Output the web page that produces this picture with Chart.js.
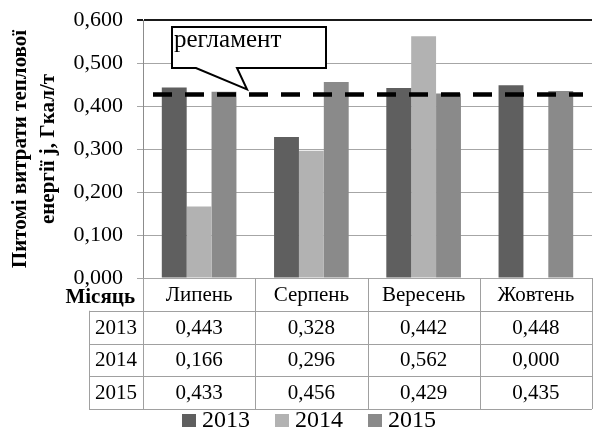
<!DOCTYPE html>
<html>
<head>
<meta charset="utf-8">
<script src="https://cdn.jsdelivr.net/npm/chart.js@4/dist/chart.umd.min.js"></script>
<style>
  html, body { margin: 0; padding: 0; background: #fff; }
  canvas { display: block; }
</style>
</head>
<body>
<canvas id="chart" width="593" height="430"></canvas>
<script>
const months = ['Липень', 'Серпень', 'Вересень', 'Жовтень'];
const years = ['2013', '2014', '2015'];
const values2013 = [0.443, 0.328, 0.442, 0.448];
const values2014 = [0.166, 0.296, 0.562, 0.000];
const values2015 = [0.433, 0.456, 0.429, 0.435];
const yearColors = ['#5f5f5f', '#b2b2b2', '#8a8a8a'];
const regulation = 0.427;
const regulationLabel = 'регламент';
const yTitle = ['Питомі витрати теплової', 'енергії j, Гкал/т'];
const rowTitle = 'Місяць';

const FONT = '"Liberation Serif"';
Chart.defaults.font.family = FONT;
const fmt = v => v.toFixed(3).replace('.', ',');

// bigger serif text: pick the face at 21px, then scale it up
function bigText(ctx, text, x, y, size) {
    const k = size / 21;
    ctx.save();
    ctx.translate(x, y);
    ctx.scale(k, k);
    ctx.font = '21px ' + FONT;
    ctx.fillText(text, 0, 0);
    const w = ctx.measureText(text).width * k;
    ctx.restore();
    return w;
}

// data table under the plot, callout and dashed regulation line
const extrasPlugin = {
    id: 'extras',
    afterDatasetsDraw(chart) {
        const { ctx, chartArea } = chart;
        const y = chart.scales.y;
        const lineY = y.getPixelForValue(regulation);

        // dashed regulation line
        ctx.save();
        ctx.strokeStyle = '#000';
        ctx.lineWidth = 4.5;
        ctx.setLineDash([19, 13]);
        ctx.beginPath();
        ctx.moveTo(chartArea.left + 10, lineY);
        ctx.lineTo(chartArea.right - 9, lineY);
        ctx.stroke();
        ctx.restore();

        // callout box
        const bx = chartArea.left + 29, by = chartArea.top + 7;
        const bw = 154, bh = 41;
        ctx.save();
        ctx.fillStyle = '#fff';
        ctx.strokeStyle = '#000';
        ctx.lineWidth = 2;
        ctx.beginPath();
        ctx.moveTo(bx, by);
        ctx.lineTo(bx + bw, by);
        ctx.lineTo(bx + bw, by + bh);
        ctx.lineTo(bx + 65, by + bh);
        ctx.lineTo(bx + 75, lineY - 5);
        ctx.lineTo(bx + 24, by + bh);
        ctx.lineTo(bx, by + bh);
        ctx.closePath();
        ctx.fill();
        ctx.stroke();
        ctx.fillStyle = '#000';
        ctx.textBaseline = 'alphabetic';
        ctx.textAlign = 'left';
        bigText(ctx, regulationLabel, bx + 2, by + 20, 25);
        ctx.restore();
    },
    afterDraw(chart) {
        const { ctx, chartArea } = chart;
        const x = chart.scales.x;
        const top = x.top, bottom = x.bottom;
        const rowH = (bottom - top) / 4;
        const colW = x.width / months.length;
        const yearLeft = chartArea.left - 54;

        ctx.save();
        ctx.strokeStyle = '#a0a0a0';
        ctx.lineWidth = 1;
        ctx.beginPath();
        // horizontal lines
        for (let r = 1; r <= 4; r++) {
            const yy = Math.round(top + r * rowH) + 0.5;
            ctx.moveTo(yearLeft, yy);
            ctx.lineTo(chartArea.right, yy);
        }
        // vertical lines on category boundaries
        for (let c = 0; c <= months.length; c++) {
            const xx = Math.round(x.left + c * colW) + 0.5;
            ctx.moveTo(xx, top);
            ctx.lineTo(xx, bottom);
        }
        ctx.moveTo(Math.round(yearLeft) + 0.5, top + rowH);
        ctx.lineTo(Math.round(yearLeft) + 0.5, bottom);
        ctx.stroke();

        ctx.fillStyle = '#000';
        ctx.textBaseline = 'middle';
        ctx.textAlign = 'center';
        ctx.font = '21px ' + FONT;
        const series = [values2013, values2014, values2015];
        months.forEach((m, i) => {
            const cx = x.getPixelForValue(i);
            ctx.fillText(m, cx, top + rowH / 2 + 1);
            series.forEach((vals, r) => {
                ctx.fillText(fmt(vals[i]), cx, top + rowH * (r + 1.5) + 1);
            });
        });
        years.forEach((yr, r) => {
            ctx.fillText(yr, (yearLeft + chartArea.left) / 2, top + rowH * (r + 1.5) + 1);
        });

        ctx.font = 'bold 21px ' + FONT;
        ctx.textAlign = 'right';
        ctx.fillText(rowTitle, chartArea.left - 8, top + rowH / 2 + 3);

        // legend
        ctx.textAlign = 'left';
        let lx = 182;
        const ly = 420;
        years.forEach((yr, i) => {
            ctx.fillStyle = yearColors[i];
            ctx.fillRect(lx, ly - 6, 14, 13);
            ctx.fillStyle = '#000';
            const w = bigText(ctx, yr, lx + 20, ly + 1, 24);
            lx += 20 + w + 25;
        });
        ctx.restore();
    }
};

new Chart(document.getElementById('chart'), {
    type: 'bar',
    data: {
        labels: months,
        datasets: [
            { label: years[0], data: values2013, backgroundColor: yearColors[0] },
            { label: years[1], data: values2014, backgroundColor: yearColors[1] },
            { label: years[2], data: values2015, backgroundColor: yearColors[2] }
        ]
    },
    options: {
        responsive: false,
        animation: false,
        layout: { padding: { top: 20, left: 0, right: 1, bottom: 21 } },
        datasets: { bar: { categoryPercentage: 0.665, barPercentage: 1.0 } },
        plugins: {
            legend: { display: false },
            tooltip: { enabled: false }
        },
        scales: {
            x: {
                grid: { display: false },
                border: { display: false },
                ticks: { display: false },
                afterFit: s => { s.height = 131; }
            },
            y: {
                min: 0,
                max: 0.6,
                ticks: {
                    stepSize: 0.1,
                    padding: 14,
                    color: '#000',
                    font: { size: 22, lineHeight: 0.4 },
                    callback: v => fmt(v)
                },
                grid: {
                    color: c => (c.tick && c.tick.value >= 0.6 ? '#1a1a1a' : '#a6a6a6'),
                    lineWidth: c => (c.tick && c.tick.value >= 0.6 ? 2 : 1),
                    tickLength: 6
                },
                border: { color: '#8c8c8c' },
                title: {
                    display: true,
                    text: yTitle,
                    color: '#000',
                    font: { size: 21, weight: 'bold', lineHeight: 1.33 },
                    padding: { top: 7, bottom: 0 }
                },
                afterFit: s => { s.width = 143; }
            }
        }
    },
    plugins: [extrasPlugin]
});
</script>
</body>
</html>
